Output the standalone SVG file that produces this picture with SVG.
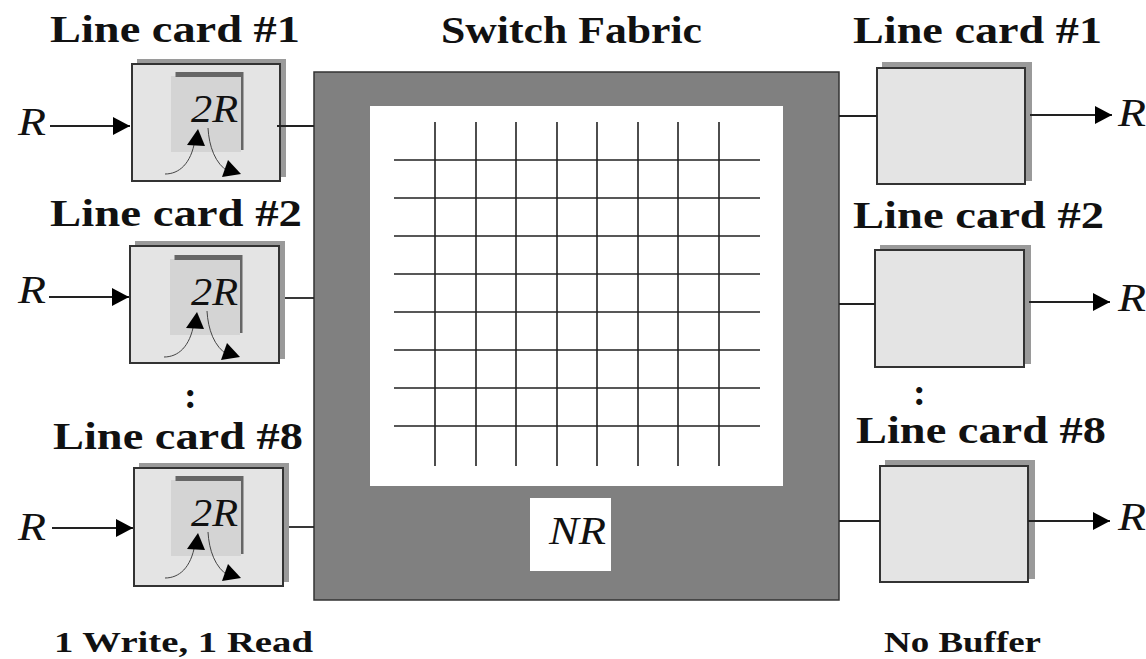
<svg xmlns="http://www.w3.org/2000/svg" width="1146" height="659" viewBox="0 0 1146 659">
<style>
.lbl{font-family:"Liberation Serif","DejaVu Serif",serif;font-weight:bold;font-size:38px;fill:#111}
.small{font-size:30px}
.math{font-family:"Liberation Serif","DejaVu Serif",serif;font-style:italic;font-size:41px;fill:#111}
.shadow{fill:#9a9a9a}
.card{fill:#e4e4e4;stroke:#333;stroke-width:2}
.wire{stroke:#222;stroke-width:1.8;fill:none}
.grid{stroke:#222;stroke-width:1.6;fill:none}
.thin{stroke:#444;stroke-width:1;fill:none}
</style>
<defs>
<marker id="ah" markerUnits="userSpaceOnUse" markerWidth="18" markerHeight="20" refX="17" refY="9" orient="auto"><path d="M0 0L17 9L0 18Z" fill="#000"/></marker>
<g id="buffer">
<rect x="0" y="4" width="70" height="76" fill="#d4d4d4"/>
<path d="M4.500 0H72.500V78H70V5H4.500Z" fill="#666"/>
<path d="M-6 102C8 102 20 92 24 68" class="thin"/>
<path d="M27 57L16 73L34 74Z" fill="#000"/>
<path d="M37 56C38 74 44 92 58 100" class="thin"/>
<path d="M70 102L51 105L57 88Z" fill="#000"/>
</g>
</defs>
<g id="fabric">
<rect x="314" y="72" width="525" height="528" fill="#808080" stroke="#333" stroke-width="1.500"/>
<rect x="370" y="106" width="413" height="380" fill="#fff"/>
<path class="grid" d="M435 122V466M476 122V466M516 122V466M557 122V466M597 122V466M638 122V466M678 122V466M719 122V466M394 160H760M394 198H760M394 236H760M394 274H760M394 312H760M394 350H760M394 388H760M394 426H760"/>
<rect x="530" y="498" width="81" height="73" fill="#fff"/>
<text class="math" x="549" y="544" textLength="57" lengthAdjust="spacingAndGlyphs">NR</text>
<text class="lbl" x="441" y="43" textLength="261" lengthAdjust="spacingAndGlyphs">Switch Fabric</text>
</g>
<g id="in1">
<rect class="shadow" x="137" y="59" width="149" height="118"/>
<rect class="card" x="132" y="64" width="148" height="117"/>
<use href="#buffer" x="171" y="72"/>
<text class="math" x="191" y="122" textLength="47" lengthAdjust="spacingAndGlyphs">2R</text>
<text class="math" x="18" y="135" textLength="28" lengthAdjust="spacingAndGlyphs">R</text>
<text class="lbl" x="50" y="42" textLength="250" lengthAdjust="spacingAndGlyphs">Line card #1</text>
</g>
<g id="in2">
<rect class="shadow" x="135" y="241" width="150" height="118"/>
<rect class="card" x="130" y="246" width="149" height="117"/>
<use href="#buffer" x="170" y="255"/>
<text class="math" x="191" y="305" textLength="47" lengthAdjust="spacingAndGlyphs">2R</text>
<text class="math" x="18" y="303" textLength="28" lengthAdjust="spacingAndGlyphs">R</text>
<text class="lbl" x="50" y="226" textLength="252" lengthAdjust="spacingAndGlyphs">Line card #2</text>
</g>
<g id="in8">
<rect class="shadow" x="139" y="463" width="150" height="119"/>
<rect class="card" x="134" y="468" width="149" height="118"/>
<use href="#buffer" x="171" y="476"/>
<text class="math" x="191" y="526" textLength="47" lengthAdjust="spacingAndGlyphs">2R</text>
<text class="math" x="18" y="540" textLength="28" lengthAdjust="spacingAndGlyphs">R</text>
<text class="lbl" x="53" y="449" textLength="250" lengthAdjust="spacingAndGlyphs">Line card #8</text>
</g>
<g id="out1">
<rect class="shadow" x="882" y="62" width="150" height="119"/>
<rect class="card" x="877" y="68" width="148" height="116"/>
<text class="math" x="1118" y="126" textLength="28" lengthAdjust="spacingAndGlyphs">R</text>
<text class="lbl" x="853" y="43" textLength="249" lengthAdjust="spacingAndGlyphs">Line card #1</text>
</g>
<g id="out2">
<rect class="shadow" x="880" y="245" width="151" height="119"/>
<rect class="card" x="875" y="250" width="149" height="117"/>
<text class="math" x="1118" y="311" textLength="28" lengthAdjust="spacingAndGlyphs">R</text>
<text class="lbl" x="853" y="228" textLength="251" lengthAdjust="spacingAndGlyphs">Line card #2</text>
</g>
<g id="out8">
<rect class="shadow" x="885" y="460" width="150" height="119"/>
<rect class="card" x="880" y="466" width="148" height="116"/>
<text class="math" x="1118" y="530" textLength="28" lengthAdjust="spacingAndGlyphs">R</text>
<text class="lbl" x="856" y="443" textLength="250" lengthAdjust="spacingAndGlyphs">Line card #8</text>
</g>
<g id="connectors">
<path class="wire" d="M50 126H130" marker-end="url(#ah)"/>
<path class="wire" d="M49 297H129" marker-end="url(#ah)"/>
<path class="wire" d="M52 528H133" marker-end="url(#ah)"/>
<path class="wire" d="M277 126H314"/>
<path class="wire" d="M285 298H314"/>
<path class="wire" d="M289 527H314"/>
<path class="wire" d="M839 116H877"/>
<path class="wire" d="M839 304H875"/>
<path class="wire" d="M839 521H880"/>
<path class="wire" d="M1030 115H1112" marker-end="url(#ah)"/>
<path class="wire" d="M1029 302H1110" marker-end="url(#ah)"/>
<path class="wire" d="M1028 521H1110" marker-end="url(#ah)"/>
</g>
<text class="lbl" x="184" y="408">:</text>
<text class="lbl" x="913" y="405">:</text>
<text class="lbl small" x="54" y="652" textLength="259" lengthAdjust="spacingAndGlyphs">1 Write, 1 Read</text>
<text class="lbl small" x="884" y="652" textLength="157" lengthAdjust="spacingAndGlyphs">No Buffer</text>
</svg>
